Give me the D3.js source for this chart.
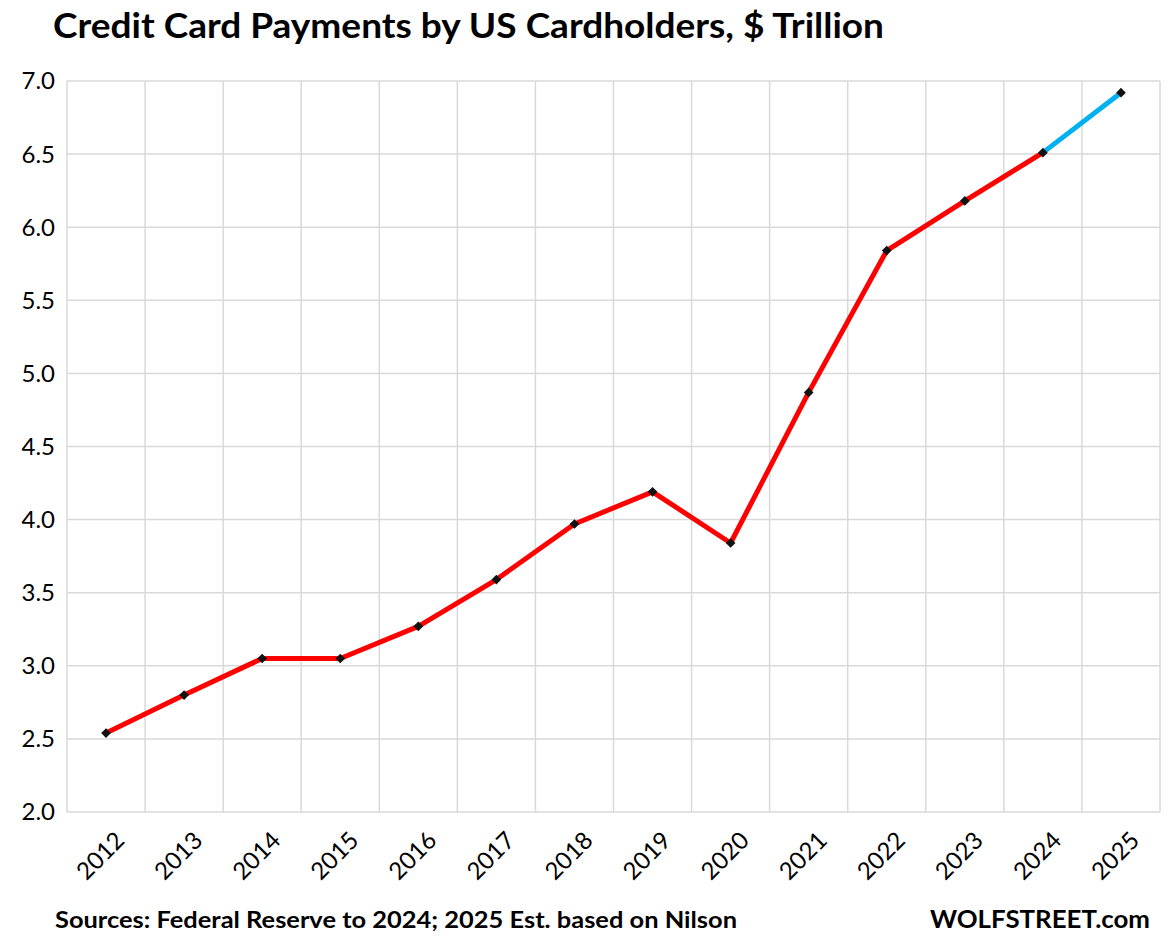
<!DOCTYPE html>
<html>
<head>
<meta charset="utf-8">
<script src="https://cdn.jsdelivr.net/npm/d3@7"></script>
<style>
  body { margin: 0; background: #fff; }
  text { font-family: Lato, "Open Sans", sans-serif; fill: #000; }
</style>
</head>
<body>
<div id="chart"></div>
<script>
const years = ["2012", "2013", "2014", "2015", "2016", "2017", "2018", "2019", "2020", "2021", "2022", "2023", "2024", "2025"];
const payments = [2.54, 2.80, 3.05, 3.05, 3.27, 3.59, 3.97, 4.19, 3.84, 4.87, 5.84, 6.18, 6.51, 6.92];
const estimateFrom = "2024";
const yTicks = [2.0, 2.5, 3.0, 3.5, 4.0, 4.5, 5.0, 5.5, 6.0, 6.5, 7.0];

const W = 1176, H = 940;
const margin = { top: 81, right: 16, bottom: 128, left: 67 };
const width = W - margin.left - margin.right;
const height = H - margin.top - margin.bottom;

const data = years.map((y, i) => ({ year: y, value: payments[i] }));

const svg = d3.select("#chart")
    .append("svg")
    .attr("width", W)
    .attr("height", H);

svg.append("text")
    .attr("x", 53)
    .attr("y", 38)
    .attr("font-size", "34px")
    .attr("textLength", 831)
    .attr("lengthAdjust", "spacingAndGlyphs")
    .style("font-weight", "bold")
    .text("Credit Card Payments by US Cardholders, $ Trillion");

const g = svg.append("g")
    .attr("transform", `translate(${margin.left},${margin.top})`);

const xScale = d3.scaleBand().domain(years).range([0, width]);
const yScale = d3.scaleLinear().domain([2, 7]).range([height, 0]);

// grid
const bounds = years.map(y => xScale(y)).concat([width]);
g.selectAll(".vgrid")
    .data(bounds)
    .enter().append("line")
    .attr("class", "vgrid")
    .attr("x1", d => d).attr("x2", d => d)
    .attr("y1", 0).attr("y2", height)
    .attr("stroke", "#d9d9d9")
    .attr("stroke-width", 1.5);

g.selectAll(".hgrid")
    .data(yTicks)
    .enter().append("line")
    .attr("class", "hgrid")
    .attr("x1", 0).attr("x2", width)
    .attr("y1", d => yScale(d)).attr("y2", d => yScale(d))
    .attr("stroke", "#d9d9d9")
    .attr("stroke-width", 1.5);

// y labels
g.selectAll(".ylabel")
    .data(yTicks)
    .enter().append("text")
    .attr("class", "ylabel")
    .attr("x", -12)
    .attr("y", d => yScale(d))
    .attr("dy", "0.35em")
    .attr("text-anchor", "end")
    .attr("font-size", "24px")
    .text(d => d.toFixed(1));

// x labels
g.selectAll(".xlabel")
    .data(years)
    .enter().append("text")
    .attr("class", "xlabel")
    .attr("transform", d => `translate(${xScale(d) + xScale.bandwidth() / 2 + 8},${height + 18}) rotate(-45)`)
    .attr("text-anchor", "end")
    .attr("dy", "0.7em")
    .attr("font-size", "24px")
    .text(d => d);

const cx = d => xScale(d.year) + xScale.bandwidth() / 2;
const line = d3.line().x(cx).y(d => yScale(d.value));

const split = years.indexOf(estimateFrom);
g.append("path")
    .datum(data.slice(0, split + 1))
    .attr("fill", "none")
    .attr("stroke", "#ff0000")
    .attr("stroke-width", 5)
    .attr("stroke-linejoin", "round")
    .attr("d", line);

g.append("path")
    .datum(data.slice(split))
    .attr("fill", "none")
    .attr("stroke", "#00b0f0")
    .attr("stroke-width", 5)
    .attr("d", line);

g.selectAll(".marker")
    .data(data)
    .enter().append("path")
    .attr("class", "marker")
    .attr("transform", d => `translate(${cx(d)},${yScale(d.value)})`)
    .attr("d", d3.symbol().type(d3.symbolDiamond2).size(60))
    .attr("fill", "#111");

svg.append("text")
    .attr("x", 55)
    .attr("y", 928)
    .attr("font-size", "22px")
    .attr("textLength", 682)
    .attr("lengthAdjust", "spacingAndGlyphs")
    .style("font-weight", "bold")
    .text("Sources: Federal Reserve to 2024; 2025 Est. based on Nilson");

svg.append("text")
    .attr("x", 1150)
    .attr("y", 928)
    .attr("text-anchor", "end")
    .attr("font-size", "25px")
    .attr("textLength", 220)
    .attr("lengthAdjust", "spacingAndGlyphs")
    .style("font-weight", "bold")
    .text("WOLFSTREET.com");
</script>
</body>
</html>
